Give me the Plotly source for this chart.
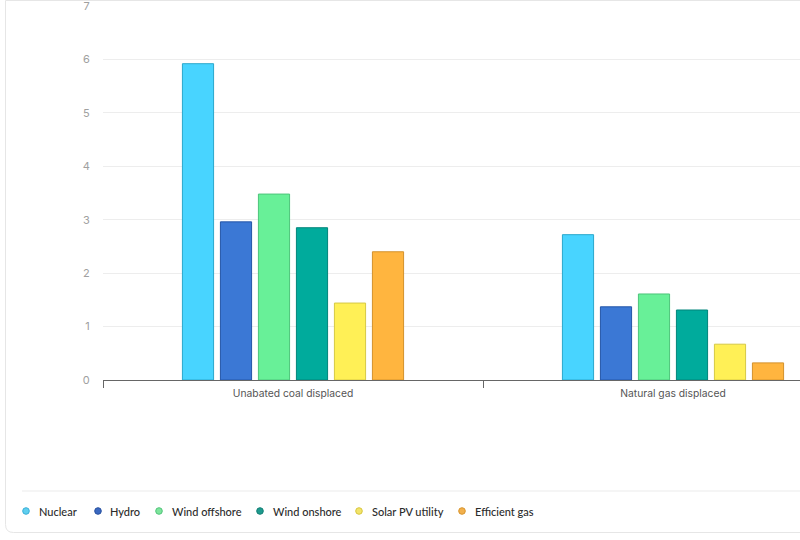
import plotly.graph_objects as go

categories = ["Unabated coal displaced", "Natural gas displaced"]
series_names = ["Nuclear", "Hydro", "Wind offshore", "Wind onshore", "Solar PV utility", "Efficient gas"]
nuclear = [5.92, 2.72]
hydro = [2.96, 1.37]
wind_offshore = [3.48, 1.61]
wind_onshore = [2.85, 1.31]
solar_pv = [1.44, 0.67]
efficient_gas = [2.40, 0.32]
series_values = [nuclear, hydro, wind_offshore, wind_onshore, solar_pv, efficient_gas]
y_ticks = [0, 1, 2, 3, 4, 5, 6, 7]

fills = ["#48D4FF", "#3B78D5", "#68F098", "#00AB9C", "#FFF056", "#FFB53F"]
lines = ["#2AA8CC", "#2456A8", "#4CC47A", "#00857A", "#D6C845", "#D4922C"]
legend_fills = ["#5FCFEF", "#3A68C0", "#7DE59C", "#1E9A8E", "#F2E46A", "#F2B04C"]
legend_lines = ["#3BAFD8", "#28509F", "#52C47A", "#127F74", "#D8C63E", "#D8952E"]

W, H = 900, 540
L, R, T, B = 103, 37, 6, 160
PW = W - L - R
PH = H - T - B

def px(x):
    return (x - L) / PW

def py(y):
    return (H - B - y) / PH

fig = go.Figure()
for name, vals, fc, lc in zip(series_names, series_values, fills, lines):
    fig.add_trace(go.Bar(
        x=categories, y=vals, name=name,
        marker=dict(color=fc, line=dict(color=lc, width=1)),
        showlegend=False,
    ))

# card outline
r = 8
x0, x1, y0, y1 = 5.5, 895, 0.5, 532.5
path = (f"M {px(x0)},{py(y0)} L {px(x0)},{py(y1 - r)} "
        f"Q {px(x0)},{py(y1)} {px(x0 + r)},{py(y1)} "
        f"L {px(x1)},{py(y1)} L {px(x1)},{py(y0)} Z")
shapes = [
    dict(type="path", xref="paper", yref="paper", path=path,
         line=dict(color="#E6E6E6", width=1), fillcolor="rgba(0,0,0,0)", layer="below"),
    dict(type="line", xref="paper", yref="paper", x0=px(22), x1=px(895), y0=py(491), y1=py(491),
         line=dict(color="#EBEBEB", width=1)),
]

# manual legend (circle markers + text)
legend_marker_x = [26, 98, 159, 260, 359, 462]
legend_text_x = [37, 108, 170, 271, 370, 473]
legend_y = 511
annotations = []
for name, mx, tx, fc, lc in zip(series_names, legend_marker_x, legend_text_x, legend_fills, legend_lines):
    shapes.append(dict(
        type="circle", xref="paper", yref="paper",
        xsizemode="pixel", ysizemode="pixel",
        xanchor=px(mx), yanchor=py(legend_y),
        x0=-3.3, x1=3.3, y0=-3.3, y1=3.3,
        fillcolor=fc, line=dict(color=lc, width=1),
    ))
    annotations.append(dict(
        xref="paper", yref="paper", x=px(tx), y=py(legend_y),
        xanchor="left", yanchor="middle", showarrow=False, text=name,
        font=dict(family="Lato, sans-serif", size=11, color="#2b2b2b", weight=500),
    ))

fig.update_layout(
    width=W, height=H,
    margin=dict(l=L, r=R, t=T, b=B, autoexpand=False),
    paper_bgcolor="white", plot_bgcolor="white",
    font=dict(family="Inter, Roboto, sans-serif", size=10.3, color="#555"),
    barmode="group", bargap=0.4, bargroupgap=0.18,
    showlegend=False,
    shapes=shapes,
    annotations=annotations,
)
fig.update_xaxes(
    type="category", showgrid=False, showline=False, automargin=False,
    ticks="outside", ticklen=7, tickcolor="#666", tickwidth=1, tickson="boundaries",
    tickfont=dict(size=10.3, color="#555"), ticklabelstandoff=6,
)
fig.update_yaxes(
    range=[0, 7], tickvals=y_ticks, showgrid=True, gridcolor="#EDEDED", gridwidth=1,
    zeroline=True, zerolinecolor="#666", zerolinewidth=1, automargin=False,
    ticks="outside", ticklen=10, tickcolor="rgba(0,0,0,0)",
    tickfont=dict(size=11, color="#A0A0A0"), showline=False,
    ticklabeloverflow="allow",
)

fig.write_html("out.html")
